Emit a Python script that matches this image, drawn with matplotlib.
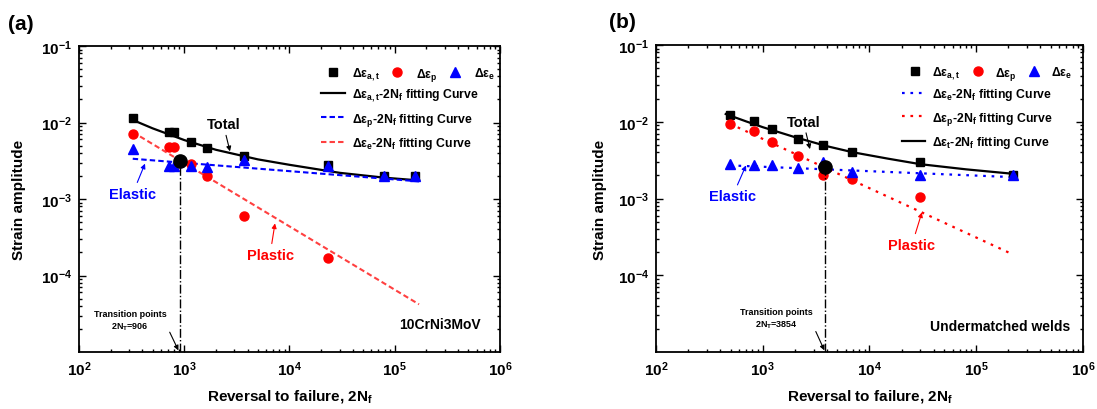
import matplotlib
matplotlib.use("Agg")
import matplotlib.pyplot as plt
from matplotlib.lines import Line2D
from matplotlib.ticker import LogLocator, NullFormatter

plt.rcParams['font.family'] = ['Liberation Sans', 'DejaVu Sans']
plt.rcParams['font.weight'] = 'bold'
plt.rcParams['mathtext.fontset'] = 'custom'
plt.rcParams['mathtext.rm'] = 'Liberation Sans:bold'
plt.rcParams['mathtext.it'] = 'Liberation Sans:bold'
plt.rcParams['mathtext.bf'] = 'Liberation Sans:bold'
plt.rcParams['mathtext.default'] = 'bf'

# ---- (a) 10CrNi3MoV ----
a_n = [324, 721, 800, 1159, 1633, 3723, 23200, 79000, 156000]
a_total = [0.0116, 0.0076, 0.0076, 0.0056, 0.0047, 0.0037, 0.0028, 0.0020, 0.0020]
a_elastic = [0.0045, 0.0027, 0.0027, 0.0027, 0.00265, 0.0032, 0.0027, 0.0020, 0.0020]
a_n_plastic = [324, 721, 800, 1159, 1633, 3723, 23200]
a_plastic = [0.0070, 0.0048, 0.0048, 0.0029, 0.0020, 0.00060, 0.00017]

a_fit_n = [324, 500, 1000, 2000, 5000, 10000, 30000, 80000, 170000]
a_fit_total = [0.0108, 0.0084, 0.0059, 0.0044, 0.0033, 0.0028, 0.0022, 0.0019, 0.00175]
a_fit_line_n = [324, 170000]
a_fit_elastic = [0.00336, 0.0017]
a_fit_plastic = [0.0075, 0.000042]
a_trans = (906, 0.0031)

# ---- (b) Undermatched welds ----
b_n = [494, 834, 1213, 2124, 3690, 6850, 30000, 220000]
b_total = [0.0121, 0.0102, 0.0081, 0.0060, 0.0050, 0.0040, 0.0030, 0.0020]
b_elastic = [0.0028, 0.0027, 0.0027, 0.0025, 0.0030, 0.0022, 0.0020, 0.0020]
b_n_plastic = [494, 834, 1213, 2124, 3690, 6850, 30000]
b_plastic = [0.0094, 0.0076, 0.0054, 0.0036, 0.0020, 0.0018, 0.00104]

b_fit_n = [450, 700, 1000, 2000, 4000, 7000, 15000, 30000, 80000, 220000]
b_fit_total = [0.0126, 0.0101, 0.0085, 0.0063, 0.0048, 0.0040, 0.0033, 0.0028, 0.0024, 0.0021]
b_fit_line_n = [494, 220000]
b_fit_elastic = [0.0027, 0.0019]
b_fit_plastic = [0.0094, 0.000187]
b_trans = (3854, 0.0026)

x_ticks = [1e2, 1e3, 1e4, 1e5, 1e6]
x_tick_labels = ['10$^{2}$', '10$^{3}$', '10$^{4}$', '10$^{5}$', '10$^{6}$']
y_ticks = [1e-4, 1e-3, 1e-2, 1e-1]
y_tick_labels = ['10$^{-4}$', '10$^{-3}$', '10$^{-2}$', '10$^{-1}$']

RED_LINE = '#ff4040'
BLUE = '#0000ff'


def setup_axes(ax):
    ax.set_xscale('log')
    ax.set_yscale('log')
    ax.set_xlim(1e2, 1e6)
    ax.set_ylim(1e-5, 1e-1)
    ax.set_xticks(x_ticks)
    ax.set_xticklabels(x_tick_labels)
    ax.set_yticks(y_ticks)
    ax.set_yticklabels(y_tick_labels)
    ax.xaxis.set_minor_locator(LogLocator(base=10, subs=range(2, 10), numticks=20))
    ax.yaxis.set_minor_locator(LogLocator(base=10, subs=range(2, 10), numticks=20))
    ax.xaxis.set_minor_formatter(NullFormatter())
    ax.yaxis.set_minor_formatter(NullFormatter())
    ax.tick_params(which='both', direction='in', top=True, right=True, labelsize=11, width=1)
    ax.tick_params(which='major', length=5, pad=5)
    ax.tick_params(which='minor', length=2.5)
    for s in ax.spines.values():
        s.set_linewidth(1.3)
    ax.set_xlabel('Reversal to failure, 2N$_f$', fontsize=11, fontweight='bold', labelpad=7)
    ax.set_ylabel('Strain amplitude', fontsize=11, fontweight='bold')


def add_legends(ax, fit_handles, x1, y1, x2, y2, pad1):
    marks = [
        Line2D([], [], ls='none', marker='s', color='black', ms=6),
        Line2D([], [], ls='none', marker='o', color='red', ms=6.5),
        Line2D([], [], ls='none', marker='^', color=BLUE, ms=7),
    ]
    labels = ['Δε$_{a,t}$', 'Δε$_{p}$', 'Δε$_{e}$']
    leg1 = ax.legend(marks, labels, ncol=3, loc='center left', bbox_to_anchor=(x1, y1),
                     frameon=False, fontsize=8.8, borderpad=0, borderaxespad=0,
                     handlelength=1.0, handletextpad=pad1, columnspacing=0.9)
    ax.add_artist(leg1)
    ax.legend(fit_handles, [h.get_label() for h in fit_handles], loc='center left',
              bbox_to_anchor=(x2, y2), frameon=False, fontsize=8.8, borderpad=0,
              borderaxespad=0, handlelength=1.95, handletextpad=0.55, labelspacing=0.62)


fig = plt.figure(figsize=(10.97, 4.10), dpi=100)
ax1 = fig.add_axes([0.0720, 0.1390, 0.3838, 0.7463])
ax2 = fig.add_axes([0.5980, 0.1390, 0.3892, 0.7488])

# ---------- panel (a) ----------
setup_axes(ax1)
ax1.yaxis.set_label_coords(-0.125, 0.5)
l_tot, = ax1.plot(a_fit_n, a_fit_total, color='black', lw=1.6,
                  label='Δε$_{a,t}$-2N$_f$ fitting Curve')
l_el, = ax1.plot(a_fit_line_n, a_fit_elastic, color=BLUE, lw=1.5, dashes=(2.6, 1.5),
                 label='Δε$_{p}$-2N$_f$ fitting Curve')
l_pl, = ax1.plot(a_fit_line_n, a_fit_plastic, color=RED_LINE, lw=1.5, dashes=(2.6, 1.5),
                 label='Δε$_{e}$-2N$_f$ fitting Curve')
ax1.plot(a_n, a_total, ls='none', marker='s', color='black', ms=6)
ax1.plot(a_n_plastic, a_plastic, ls='none', marker='o', color='red', ms=6.5)
ax1.plot(a_n, a_elastic, ls='none', marker='^', color=BLUE, ms=7)
ax1.plot([a_trans[0], a_trans[0]], [1e-5, a_trans[1]], color='black', lw=1, ls='-.')
ax1.plot([a_trans[0]], [a_trans[1]], ls='none', marker='o', color='black', ms=9.5)

arrow = dict(arrowstyle='-|>', lw=0.8, mutation_scale=7, shrinkA=1, shrinkB=0)
ax1.annotate('Total', xy=(2720, 0.0042), xytext=(2350, 0.0095), ha='center', va='center',
             fontsize=10.5, fontweight='bold', color='black', arrowprops=dict(arrow, color='black'))
ax1.annotate('Elastic', xy=(424, 0.0029), xytext=(324, 0.00118), ha='center', va='center',
             fontsize=10.5, fontweight='bold', color=BLUE, arrowprops=dict(arrow, color=BLUE))
ax1.annotate('Plastic', xy=(7280, 0.00048), xytext=(6530, 0.000187), ha='center', va='center',
             fontsize=10.5, fontweight='bold', color='red', arrowprops=dict(arrow, color='red'))
ax1.annotate('Transition points\n2N$_T$=906', xy=(880, 1.05e-5), xytext=(305, 2.6e-5),
             ha='center', va='center', fontsize=6.5, fontweight='bold', linespacing=1.3,
             arrowprops=dict(arrow, color='black', relpos=(0.95, 0.62)))
ax1.text(0.955, 0.09, '10CrNi3MoV', transform=ax1.transAxes, ha='right', va='center',
         fontsize=10, fontweight='bold')
add_legends(ax1, [l_tot, l_el, l_pl], 0.589, 0.908, 0.576, 0.762, 1.05)

# ---------- panel (b) ----------
setup_axes(ax2)
ax2.yaxis.set_label_coords(-0.115, 0.5)
m_el, = ax2.plot(b_fit_line_n, b_fit_elastic, color=BLUE, lw=1.6, dashes=(1.2, 2.6),
                 label='Δε$_{e}$-2N$_f$ fitting Curve')
m_pl, = ax2.plot(b_fit_line_n, b_fit_plastic, color='red', lw=1.6, dashes=(1.2, 2.6),
                 label='Δε$_{p}$-2N$_f$ fitting Curve')
m_tot, = ax2.plot(b_fit_n, b_fit_total, color='black', lw=1.6,
                  label='Δε$_{t}$-2N$_f$ fitting Curve')
ax2.plot(b_n, b_total, ls='none', marker='s', color='black', ms=6)
ax2.plot(b_n_plastic, b_plastic, ls='none', marker='o', color='red', ms=6.5)
ax2.plot(b_n, b_elastic, ls='none', marker='^', color=BLUE, ms=7)
ax2.plot([b_trans[0], b_trans[0]], [1e-5, b_trans[1]], color='black', lw=1, ls='-.')
ax2.plot([b_trans[0]], [b_trans[1]], ls='none', marker='o', color='black', ms=9.5)

ax2.annotate('Total', xy=(2770, 0.0044), xytext=(2400, 0.0100), ha='center', va='center',
             fontsize=10.5, fontweight='bold', color='black', arrowprops=dict(arrow, color='black'))
ax2.annotate('Elastic', xy=(697, 0.0027), xytext=(522, 0.00108), ha='center', va='center',
             fontsize=10.5, fontweight='bold', color=BLUE, arrowprops=dict(arrow, color=BLUE))
ax2.annotate('Plastic', xy=(31000, 0.00066), xytext=(25000, 0.00025), ha='center', va='center',
             fontsize=10.5, fontweight='bold', color='red', arrowprops=dict(arrow, color='red'))
ax2.annotate('Transition points\n2N$_T$=3854', xy=(3780, 1.05e-5), xytext=(1333, 2.7e-5),
             ha='center', va='center', fontsize=6.5, fontweight='bold', linespacing=1.3,
             arrowprops=dict(arrow, color='black', relpos=(0.95, 0.62)))
ax2.text(0.97, 0.085, 'Undermatched welds', transform=ax2.transAxes, ha='right', va='center',
         fontsize=10, fontweight='bold')
add_legends(ax2, [m_el, m_pl, m_tot], 0.593, 0.908, 0.575, 0.762, 0.9)

fig.text(0.007, 0.94, '(a)', fontsize=15, fontweight='bold', va='center')
fig.text(0.555, 0.945, '(b)', fontsize=15, fontweight='bold', va='center')

fig.savefig('out.png', dpi=100)
